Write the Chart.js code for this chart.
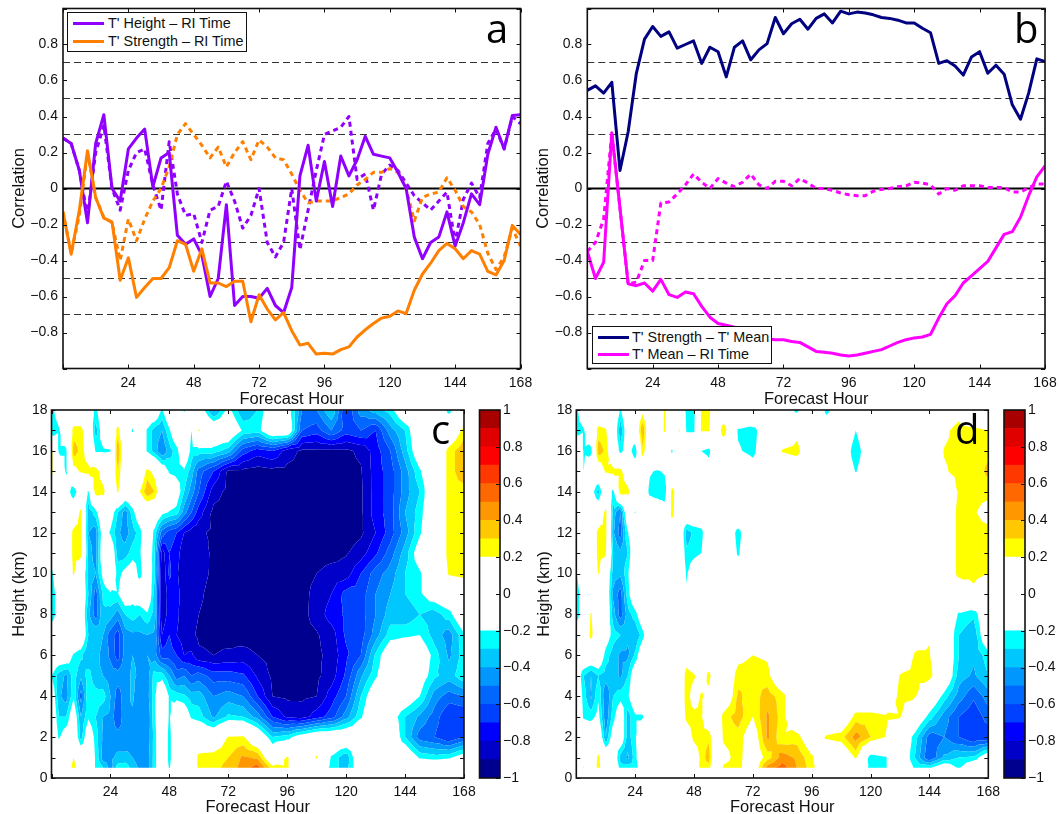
<!DOCTYPE html>
<html>
<head>
<meta charset="utf-8">
<title>Correlation panels</title>
<script src="https://cdn.jsdelivr.net/npm/chart.js@4"></script>
<style>
    html, body { margin: 0; padding: 0; background: #fff; }
    #page { position: relative; width: 1059px; height: 814px; overflow: hidden; font-family: "Liberation Sans", Arial, sans-serif; color: #111; }
    canvas { position: absolute; }
    .letter { position: absolute; font-family: "Open Sans", sans-serif; font-size: 40px; line-height: 50px; color: #000; }
    .legend { position: absolute; background: #fff; border: 1.5px solid #111; box-sizing: border-box; font-size: 14.4px; }
    .legend div { position: absolute; white-space: nowrap; }
    .legend .swatch { height: 3px; width: 31px; left: 5px; }
</style>
</head>
<body>
<div id="page">
    <canvas id="chartA" width="535" height="405" style="left:0;top:0"></canvas>
    <canvas id="chartB" width="529" height="405" style="left:530px;top:0"></canvas>
    <canvas id="chartC" width="480" height="414" style="left:0;top:400px"></canvas>
    <canvas id="barC" width="55" height="414" style="left:475px;top:400px"></canvas>
    <canvas id="chartD" width="480" height="414" style="left:530px;top:400px"></canvas>
    <canvas id="barD" width="59" height="414" style="left:1000px;top:400px"></canvas>

    <div class="legend" style="left:67px;top:12px;width:180px;height:40px">
        <div class="swatch" style="top:9px;background:#9000ff"></div><div style="left:40px;top:2px">T' Height – RI Time</div>
        <div class="swatch" style="top:27px;background:#ff8000"></div><div style="left:40px;top:20px">T' Strength – RI Time</div>
    </div>
    <div class="legend" style="left:592px;top:326px;width:180px;height:38px">
        <div class="swatch" style="top:9px;background:#000080"></div><div style="left:39px;top:2px">T' Strength – T' Mean</div>
        <div class="swatch" style="top:26px;background:#ff00ff"></div><div style="left:39px;top:19px">T' Mean – RI Time</div>
    </div>

    <div class="letter" style="left:486px;top:2.5px">a</div>
    <div class="letter" style="left:1014px;top:2.5px">b</div>
    <div class="letter" style="left:431px;top:403.5px">c</div>
    <div class="letter" style="left:955px;top:403.5px">d</div>
</div>

<script>
// 3-hourly forecast hours for the line panels
const hours = [0,3,6,9,12,15,18,21,24,27,30,33,36,39,42,45,48,51,54,57,60,63,66,69,72,75,78,81,84,87,90,93,96,99,102,105,108,111,114,117,120,123,126,129,132,135,138,141,144,147,150,153,156,159,162,165,168];

const heightRi = [0.28,0.25,0.1,-0.19,0.25,0.41,0.0,-0.07,0.22,0.28,0.33,0.01,0.17,0.2,-0.26,-0.31,-0.28,-0.37,-0.6,-0.5,-0.09,-0.65,-0.6,-0.6,-0.61,-0.555,-0.65,-0.69,-0.55,0.07,0.24,-0.07,0.15,-0.1,0.18,0.07,0.16,0.29,0.19,0.18,0.17,0.09,0.0,-0.27,-0.39,-0.3,-0.27,-0.13,-0.32,-0.19,-0.03,-0.09,0.19,0.34,0.22,0.405,0.41];
const heightRiDash = [0.28,0.25,0.1,-0.15,0.2,0.35,0.0,-0.12,0.1,0.2,0.22,0.02,-0.12,0.26,-0.03,-0.15,-0.14,-0.3,-0.12,-0.1,0.04,-0.07,-0.22,-0.15,0.0,-0.3,-0.38,-0.3,0.0,-0.34,-0.12,0.1,0.3,0.32,0.34,0.4,0.05,0.08,-0.12,0.08,0.13,0.1,0.03,-0.04,-0.08,-0.12,-0.07,-0.02,-0.3,-0.06,0.03,-0.05,0.25,0.33,0.22,0.4,0.36];
const strengthRi = [-0.13,-0.365,-0.12,0.21,-0.05,-0.165,-0.185,-0.51,-0.385,-0.605,-0.55,-0.5,-0.5,-0.44,-0.29,-0.31,-0.46,-0.335,-0.525,-0.525,-0.545,-0.515,-0.515,-0.74,-0.59,-0.67,-0.73,-0.69,-0.79,-0.87,-0.86,-0.92,-0.915,-0.92,-0.895,-0.88,-0.825,-0.785,-0.75,-0.72,-0.71,-0.68,-0.695,-0.565,-0.475,-0.415,-0.345,-0.305,-0.335,-0.39,-0.345,-0.365,-0.46,-0.48,-0.4,-0.205,-0.255];
const strengthRiDash = [-0.13,-0.36,-0.15,0.2,-0.05,-0.16,-0.19,-0.4,-0.17,-0.29,-0.17,-0.07,0.0,0.12,0.3,0.36,0.3,0.24,0.17,0.23,0.12,0.2,0.26,0.16,0.27,0.23,0.17,0.16,0.08,-0.01,-0.08,-0.07,-0.07,-0.07,-0.05,-0.03,0.02,0.05,0.09,0.09,0.11,0.09,0.0,-0.18,-0.05,-0.03,-0.02,0.06,-0.01,-0.1,-0.13,-0.2,-0.36,-0.45,-0.38,-0.22,-0.32];

const strengthMean = [0.545,0.57,0.53,0.59,0.1,0.315,0.64,0.83,0.9,0.845,0.87,0.78,0.8,0.82,0.695,0.785,0.76,0.62,0.785,0.82,0.715,0.77,0.805,0.95,0.86,0.915,0.94,0.885,0.945,0.97,0.92,0.985,0.97,0.98,0.975,0.965,0.95,0.945,0.935,0.92,0.92,0.89,0.865,0.695,0.71,0.68,0.63,0.73,0.76,0.64,0.685,0.635,0.465,0.385,0.53,0.72,0.705];
const meanRi = [-0.35,-0.5,-0.41,0.31,-0.11,-0.53,-0.54,-0.525,-0.57,-0.505,-0.59,-0.605,-0.575,-0.585,-0.655,-0.715,-0.75,-0.76,-0.77,-0.79,-0.81,-0.83,-0.835,-0.84,-0.84,-0.85,-0.855,-0.88,-0.905,-0.91,-0.915,-0.925,-0.93,-0.925,-0.915,-0.905,-0.895,-0.875,-0.855,-0.84,-0.83,-0.825,-0.81,-0.72,-0.64,-0.595,-0.525,-0.485,-0.445,-0.405,-0.33,-0.255,-0.24,-0.16,-0.04,0.065,0.125];
const meanRiDash = [-0.35,-0.3,-0.17,0.31,-0.11,-0.53,-0.52,-0.4,-0.4,-0.08,-0.075,-0.03,0.02,0.08,0.035,0.0,0.055,0.03,0.01,0.035,0.08,0.02,0.0,0.04,0.04,0.015,0.055,0.03,0.0,0.0,-0.01,-0.025,-0.035,-0.04,-0.04,-0.015,-0.005,0.0,0.01,0.015,0.035,0.03,0.02,-0.03,0.0,-0.01,0.015,0.015,0.015,0.005,0.005,0.005,-0.02,-0.02,0.005,0.025,0.025];

const dashedLevels = [0.7,0.5,0.3,-0.3,-0.5,-0.7];

// contour grids: correlation x100, rows run top (18 km) to bottom (0.5 km)
const gridHours = [0,3,6,9,12,15,18,21,24,27,30,33,36,39,42,45,48,51,54,57,60,66,72,78,84,90,96,102,108,114,120,126,132,138,144,150,156,162,168];
const gridHeights = [18,17,16,15,14,13,12,11,10,9,8,7,6,5,4,3,2,1,0.5];

const fieldC = [
    [-25,-10,0,0,0,-5,-25,0,0,0,0,0,0,0,0,-22,0,0,-22,0,-5, -45,-15,-40,-30,-5,-10,-50,-50,-30,-70,-45,-35,-25,0,0,0,-25,0],
    [-30,-22,-5,25,25,5,-35,-10,0,25,0,-22,0,-22,-35,-40,-22,0,0,-20,22, 0,0,-22,-25,0,0,-60,-65,-50,-65,-60,-70,-45,-30,0,0,0,25],
    [25,-22,-22,35,27,10,-22,-22,-21,40,0,0,0,-22,-35,-50,-35,-25,0,-25,-25, -25,-35,-65,-75,-70,-85,-92,-92,-92,-92,-88,-75,-60,-35,-5,0,25,38],
    [25,-5,-22,15,22,25,28,10,0,30,0,18,0,25,15,-5,-22,-25,-22,-35,-55, -70,-92,-93,-95,-93,-93,-93,-93,-93,-93,-91,-75,-65,-45,-22,0,25,38],
    [0,0,-10,-30,-5,-22,28,25,0,22,0,0,20,38,30,0,0,-10,-30,-45,-60, -85,-93,-94,-95,-95,-95,-95,-95,-95,-95,-92,-75,-65,-45,-30,0,25,25],
    [0,0,0,0,25,-38,-25,0,-10,-30,-45,-25,-5,0,0,-15,-21,-25,-45,-60,-75, -93,-95,-95,-95,-95,-95,-95,-95,-95,-95,-92,-75,-65,-40,-25,0,25,25],
    [0,0,0,25,25,-40,-45,-10,-22,-38,-45,-35,-25,0,-25,-55,-65,-70,-80,-85,-88, -92,-95,-95,-95,-95,-95,-95,-95,-95,-95,-92,-80,-65,-45,-22,0,25,25],
    [0,0,0,25,25,-35,-45,-5,0,-35,-35,-25,-22,0,-30,-85,-70,-75,-88,-85,-85, -92,-95,-95,-95,-95,-95,-95,-95,-95,-91,-85,-72,-55,-35,-10,0,25,25],
    [-25,0,0,22,0,-35,-40,-15,0,-25,-15,-10,-25,-5,-28,-90,-68,-78,-90,-85,-86, -92,-95,-95,-95,-95,-95,-93,-90,-85,-85,-70,-55,-45,-30,-22,0,22,25],
    [-30,-10,0,0,0,-30,-55,-28,-22,-21,-5,-15,-5,0,-35,-90,-75,-75,-88,-85,-88, -94,-95,-95,-95,-95,-95,-93,-87,-80,-66,-65,-50,-40,-30,-22,-10,0,0],
    [-30,-10,0,0,0,-38,-55,-32,-35,-45,-30,-25,-30,-22,-35,-88,-75,-78,-85,-86,-90, -94,-95,-95,-95,-95,-95,-93,-86,-75,-68,-65,-50,-35,-38,-30,-35,-25,0],
    [-5,0,18,0,0,-30,-30,-40,-55,-65,-45,-42,-42,-40,-42,-80,-70,-80,-85,-88,-92, -93,-94,-95,-95,-95,-95,-93,-91,-85,-68,-65,-45,-25,-22,-20,-35,-45,-22],
    [0,-5,-5,-22,-28,-40,-35,-45,-52,-65,-45,-40,-42,-40,-45,-65,-65,-70,-80,-78,-88, -90,-88,-86,-90,-93,-95,-94,-92,-87,-72,-60,-28,-5,-5,-5,-25,-42,-25],
    [-20,-35,-42,-25,-38,-25,-38,-40,-45,-45,-45,-38,-42,-45,-25,-25,-40,-55,-50,-60,-55, -65,-65,-68,-82,-92,-95,-93,-92,-85,-68,-42,-22,-5,0,-10,-28,-35,-22],
    [-5,-38,-45,-22,-55,-22,-25,-25,-40,-55,-45,-38,-50,-45,-22,5,-22,-25,-28,-35,-35, -50,-45,-50,-70,-90,-92,-92,-90,-75,-60,-30,-5,0,-5,-20,-45,-55,-50],
    [0,-30,-30,-5,-40,-22,-30,-40,-42,-60,-42,-42,-50,-50,-22,-2,-22,0,-5,-22,-25, -42,-28,-30,-45,-70,-82,-85,-75,-65,-45,-22,0,-10,-30,-42,-55,-70,-70],
    [0,-22,-10,0,-35,-5,-25,-42,-45,-45,-45,-42,-50,-48,-25,0,-25,0,0,0,0, 0,21,22,0,-30,-25,-10,0,0,0,0,0,0,-30,-55,-60,-70,-60],
    [0,0,0,20,0,0,-22,-45,-42,-38,-38,-40,-45,-45,-25,0,-25,0,0,0,25, 27,30,42,38,0,22,0,22,-22,-38,0,0,0,0,-22,-25,-22,-10],
    [0,0,0,28,5,0,-22,-30,-45,-25,-22,-35,-42,-45,-25,0,-22,0,0,0,25, 28,32,45,55,25,22,0,0,-25,-35,-5,0,0,0,0,0,0,0]
];

const fieldD = [
    [-25,0,0,0,0,0,-22,0,0,15,0,0,22,0,0,-25,-25,22,25,0,0, 0,22,0,-5,-25,22,-25,0,0,0,0,0,0,0,0,10,-22,0],
    [-28,-22,0,25,22,0,-38,-5,0,40,0,0,22,0,22,-22,-22,22,22,0,30, -22,-28,0,0,15,0,-5,0,-20,0,0,0,0,0,15,28,25,20],
    [22,-22,-25,36,28,0,-25,-10,-30,28,0,20,0,-22,0,0,0,-20,-25,0,0, -18,-25,0,21,25,0,0,-5,-28,-5,0,0,0,0,21,25,25,28],
    [20,-20,0,5,22,25,25,5,-5,0,-18,-22,-18,0,-5,0,0,0,-10,0,0, 0,-10,0,5,5,0,0,-5,-21,-5,0,0,0,0,18,25,25,32],
    [0,0,-10,-35,0,-25,28,25,0,0,-25,-30,-30,25,10,0,0,0,0,0,0, 0,0,0,0,0,0,0,0,0,0,0,0,0,0,0,22,25,25],
    [0,0,0,0,25,-35,-50,0,-21,0,0,0,-10,25,5,0,0,0,0,0,0, 0,0,0,0,0,0,0,0,0,0,0,0,0,0,0,25,22,12],
    [0,0,0,25,25,-38,-55,-21,-5,0,0,0,0,10,0,-35,-28,-25,0,0,0, -25,0,0,0,0,0,0,0,0,0,0,0,0,0,0,25,25,25],
    [0,0,0,25,22,-30,-38,-30,0,0,0,0,0,0,0,-28,-25,-20,0,0,0, -22,0,0,0,0,0,0,0,0,0,0,0,0,0,0,25,25,25],
    [-22,0,0,21,0,-35,-38,-22,0,0,0,0,0,18,0,-22,-5,0,0,0,0, -10,0,0,0,0,0,0,0,0,0,0,0,0,0,0,25,25,20],
    [-30,-5,0,0,0,-42,-55,-25,0,0,0,0,0,0,0,-18,0,0,0,0,0, 0,0,0,0,0,0,0,0,0,0,0,0,0,0,0,0,15,0],
    [-30,-5,22,0,0,-35,-55,-35,-25,-5,0,0,0,0,0,0,0,0,0,0,0, 0,0,0,0,0,0,0,0,0,0,0,0,0,0,0,-22,-28,0],
    [0,0,25,0,-10,-25,-30,-38,-40,-25,0,0,0,0,0,0,0,0,0,0,0, 0,0,0,0,0,0,0,0,0,0,0,0,15,19,0,-30,-38,0],
    [0,0,0,0,-25,-35,-42,-42,-28,-5,0,0,0,0,0,10,0,0,0,0,0, 15,20,18,0,0,0,0,0,0,0,0,0,21,21,0,-30,-38,-25],
    [-5,-30,-40,-30,-35,-35,-42,-30,-5,0,0,0,0,0,0,27,22,5,25,5,0, 26,27,24,0,0,0,0,0,0,0,0,21,25,25,0,-35,-42,-30],
    [0,-25,-42,-22,-50,-30,-25,-22,-5,0,0,0,0,0,0,28,10,22,15,0,0, 32,25,35,25,0,0,0,0,0,0,0,25,22,0,-25,-45,-58,-45],
    [0,-22,-25,-15,-48,-25,-5,-35,-22,-22,0,0,0,0,0,25,25,22,0,0,25, 35,20,42,25,0,0,0,0,25,25,22,21,0,-25,-45,-60,-68,-55],
    [0,-5,0,0,-40,-10,-5,-35,-22,0,0,0,0,0,0,5,25,25,28,0,22, 26,8,42,22,25,5,22,26,45,30,20,0,-25,-55,-50,-60,-70,-68],
    [5,0,0,24,0,0,-35,-42,-25,0,0,0,0,0,18,0,5,25,35,0,15, 25,8,25,45,38,22,0,0,22,-28,-22,0,-30,-60,-38,-30,-28,-5],
    [0,22,0,26,0,0,-25,-25,-30,0,0,0,0,0,0,0,0,28,25,0,22, 25,5,45,55,40,25,0,0,0,-25,-22,0,-22,-22,-5,-22,0,0]
];

// colour bands, lower edges from -1 to 0.9 (white gap runs -0.2 to 0.2)
const bandEdges = [-1,-0.9,-0.8,-0.7,-0.6,-0.5,-0.4,-0.3,-0.2,0.2,0.3,0.4,0.5,0.6,0.7,0.8,0.9,1];
const bandColors = ['#00008f','#0000c8','#0000ff','#0040ff','#0068ff','#0098ff','#00c8ff','#00ffff','#ffffff','#ffff00','#ffc800','#ff9800','#ff6800','#ff3800','#ff0000','#e00000','#a80000'];

const tickFont = { family: '"Liberation Sans", Arial, sans-serif', size: 14 };
const titleFont = { family: '"Liberation Sans", Arial, sans-serif', size: 16.5 };
const inkColor = '#111';

const minusLabel = (v) => String(Math.round(v * 10) / 10).replace('-', '\u2212');

function pairs(values) {
    return values.map((v, i) => ({ x: hours[i], y: v }));
}

// drop the label overhang so the plot box lands where the padding says
function noOverhang(s) {
    s.paddingLeft = 0;
    s.paddingRight = 0;
    s.paddingTop = 0;
    s.paddingBottom = 0;
}

// frame and inward MATLAB style ticks
const framePlugin = {
    id: 'frame',
    afterDatasetsDraw(chart, args, opts) {
        const ctx = chart.ctx;
        const a = chart.chartArea;
        const len = opts.tickLength === undefined ? 4 : opts.tickLength;
        ctx.save();
        ctx.strokeStyle = inkColor;
        ctx.lineWidth = 1;
        ctx.beginPath();
        if (chart.scales.x && !opts.noX) {
            chart.scales.x.ticks.forEach((t) => {
                const px = Math.round(chart.scales.x.getPixelForValue(t.value)) + 0.5;
                ctx.moveTo(px, a.bottom); ctx.lineTo(px, a.bottom - len);
                ctx.moveTo(px, a.top); ctx.lineTo(px, a.top + len);
            });
        }
        chart.scales.y.ticks.forEach((t) => {
            const py = Math.round(chart.scales.y.getPixelForValue(t.value)) + 0.5;
            if (!opts.noX) {
                ctx.moveTo(a.left, py); ctx.lineTo(a.left + len, py);
            }
            ctx.moveTo(a.right, py); ctx.lineTo(a.right - len, py);
        });
        ctx.stroke();
        ctx.lineWidth = 1.6;
        ctx.strokeRect(a.left, a.top, a.right - a.left, a.bottom - a.top);
        ctx.restore();
    }
};

// clip a polygon [{x,y,v}] to one side of a field level
function clipPoly(poly, level, keepAbove) {
    const out = [];
    for (let i = 0; i < poly.length; i++) {
        const p = poly[i];
        const q = poly[(i + 1) % poly.length];
        const pIn = keepAbove ? p.v >= level : p.v <= level;
        const qIn = keepAbove ? q.v >= level : q.v <= level;
        if (pIn) out.push(p);
        if (pIn !== qIn) {
            const t = (level - p.v) / (q.v - p.v);
            out.push({ x: p.x + t * (q.x - p.x), y: p.y + t * (q.y - p.y), v: level });
        }
    }
    return out;
}

// filled contours, one canvas path per band, placed by the chart's scales
const contourPlugin = {
    id: 'contour',
    beforeDatasetsDraw(chart, args, opts) {
        const ctx = chart.ctx;
        const xs = gridHours.map((h) => chart.scales.x.getPixelForValue(h));
        const ys = gridHeights.map((h) => chart.scales.y.getPixelForValue(h));
        const field = opts.field;
        const tris = [];
        for (let r = 0; r < ys.length - 1; r++) {
            for (let c = 0; c < xs.length - 1; c++) {
                const a = { x: xs[c], y: ys[r], v: field[r][c] / 100 };
                const b = { x: xs[c + 1], y: ys[r], v: field[r][c + 1] / 100 };
                const d = { x: xs[c], y: ys[r + 1], v: field[r + 1][c] / 100 };
                const e = { x: xs[c + 1], y: ys[r + 1], v: field[r + 1][c + 1] / 100 };
                const m = { x: (a.x + b.x) / 2, y: (a.y + d.y) / 2, v: (a.v + b.v + d.v + e.v) / 4 };
                tris.push([a, b, m], [b, e, m], [e, d, m], [d, a, m]);
            }
        }
        ctx.save();
        bandColors.forEach((color, i) => {
            if (color === '#ffffff') return;
            const lo = bandEdges[i];
            const hi = bandEdges[i + 1];
            ctx.beginPath();
            tris.forEach((tri) => {
                let poly = clipPoly(tri, lo, true);
                if (poly.length) poly = clipPoly(poly, hi, false);
                if (poly.length < 3) return;
                ctx.moveTo(poly[0].x, poly[0].y);
                for (let k = 1; k < poly.length; k++) ctx.lineTo(poly[k].x, poly[k].y);
                ctx.closePath();
            });
            ctx.fillStyle = color;
            ctx.fill();
        });
        ctx.restore();
    }
};

function hourAxis(height, titleDrop) {
    return {
        type: 'linear', min: 0, max: 168,
        afterFit: (s) => { s.height = height; noOverhang(s); },
        grid: { display: false, drawTicks: false }, border: { display: false },
        ticks: { stepSize: 24, autoSkip: false, maxRotation: 0, font: tickFont, color: inkColor, padding: 6, callback: (v) => (v === 0 ? '' : v) },
        title: { display: true, text: 'Forecast Hour', font: titleFont, color: inkColor, padding: { top: 0, bottom: -titleDrop } }
    };
}

function linePanel(id, leftPad, axisWidth, rightPad, series) {
    const refs = dashedLevels.map((lvl) => ({
        data: [{ x: 0, y: lvl }, { x: 168, y: lvl }],
        borderColor: '#333', borderWidth: 1, borderDash: [7, 4], pointRadius: 0, order: 10
    }));
    refs.push({
        data: [{ x: 0, y: 0 }, { x: 168, y: 0 }],
        borderColor: '#000', borderWidth: 2.2, pointRadius: 0, order: 9
    });
    const lines = series.map((s) => ({
        data: pairs(s.values), borderColor: s.color, borderWidth: 3,
        borderDash: s.dashed ? [5, 4] : [], borderJoinStyle: 'round',
        pointRadius: 0, tension: 0, order: s.order
    }));
    return new Chart(document.getElementById(id), {
        type: 'line',
        data: { datasets: refs.concat(lines) },
        options: {
            responsive: false, animation: false, parsing: true,
            // half pixel top so the thin dashed levels land on a pixel row
            layout: { padding: { top: 8.5, right: rightPad, left: leftPad, bottom: 0 } },
            plugins: { legend: { display: false }, tooltip: { enabled: false }, frame: {} },
            scales: {
                x: hourAxis(36.5, 4),
                y: {
                    type: 'linear', min: -1, max: 1,
                    afterFit: (s) => { s.width = axisWidth; noOverhang(s); },
                    grid: { display: false, drawTicks: false }, border: { display: false },
                    ticks: { stepSize: 0.2, autoSkip: false, font: tickFont, color: inkColor, padding: 5, callback: (v) => (Math.abs(v) > 0.99 ? '' : minusLabel(v)) },
                    title: { display: true, text: 'Correlation', font: titleFont, color: inkColor, padding: { top: 0, bottom: 0 } }
                }
            }
        },
        plugins: [framePlugin]
    });
}

function contourPanel(id, field, leftPad, axisWidth, rightPad) {
    return new Chart(document.getElementById(id), {
        type: 'scatter',
        data: { datasets: [] },
        options: {
            responsive: false, animation: false,
            layout: { padding: { top: 10, right: rightPad, left: leftPad, bottom: 0 } },
            plugins: { legend: { display: false }, tooltip: { enabled: false }, frame: {}, contour: { field: field } },
            scales: {
                x: hourAxis(36, 3),
                y: {
                    type: 'linear', min: 0, max: 18,
                    afterFit: (s) => { s.width = axisWidth; noOverhang(s); },
                    grid: { display: false, drawTicks: false }, border: { display: false },
                    ticks: { stepSize: 1, autoSkip: false, font: tickFont, color: inkColor, padding: 4, callback: (v) => (v % 2 === 0 ? v : '') },
                    title: { display: true, text: 'Height (km)', font: titleFont, color: inkColor, padding: { top: 0, bottom: 0 } }
                }
            }
        },
        plugins: [contourPlugin, framePlugin]
    });
}

function colorBar(id, leftPad, plotWidth) {
    const datasets = bandColors.map((color, i) => ({
        data: [[bandEdges[i], bandEdges[i + 1]]],
        backgroundColor: color, barPercentage: 1, categoryPercentage: 1, grouped: false
    }));
    return new Chart(document.getElementById(id), {
        type: 'bar',
        data: { labels: ['c'], datasets: datasets },
        options: {
            responsive: false, animation: false,
            layout: { padding: { top: 10, left: leftPad, right: 0, bottom: 36 } },
            plugins: { legend: { display: false }, tooltip: { enabled: false }, frame: { noX: true } },
            scales: {
                x: { display: false },
                y: {
                    type: 'linear', position: 'right', min: -1, max: 1,
                    afterFit: (s) => { s.width = plotWidth; noOverhang(s); },
                    grid: { display: false, drawTicks: false }, border: { display: false },
                    ticks: { stepSize: 0.2, autoSkip: false, font: tickFont, color: inkColor, padding: 3, callback: minusLabel }
                }
            }
        },
        plugins: [framePlugin]
    });
}

document.addEventListener('DOMContentLoaded', () => {
    linePanel('chartA', 10, 53, 14.5, [
        { values: heightRiDash, color: '#9000ff', dashed: true, order: 6 },
        { values: strengthRiDash, color: '#ff8000', dashed: true, order: 5 },
        { values: heightRi, color: '#9000ff', dashed: false, order: 4 },
        { values: strengthRi, color: '#ff8000', dashed: false, order: 3 }
    ]);
    linePanel('chartB', 4, 53.3, 14, [
        { values: meanRiDash, color: '#ff00ff', dashed: true, order: 6 },
        { values: strengthMean, color: '#000080', dashed: false, order: 4 },
        { values: meanRi, color: '#ff00ff', dashed: false, order: 3 }
    ]);
    contourPanel('chartC', fieldC, 10, 41.5, 16);
    contourPanel('chartD', fieldD, 5, 41.3, 21.7);
    colorBar('barC', 4.5, 30);
    colorBar('barD', 4, 34);
});
</script>
</body>
</html>
